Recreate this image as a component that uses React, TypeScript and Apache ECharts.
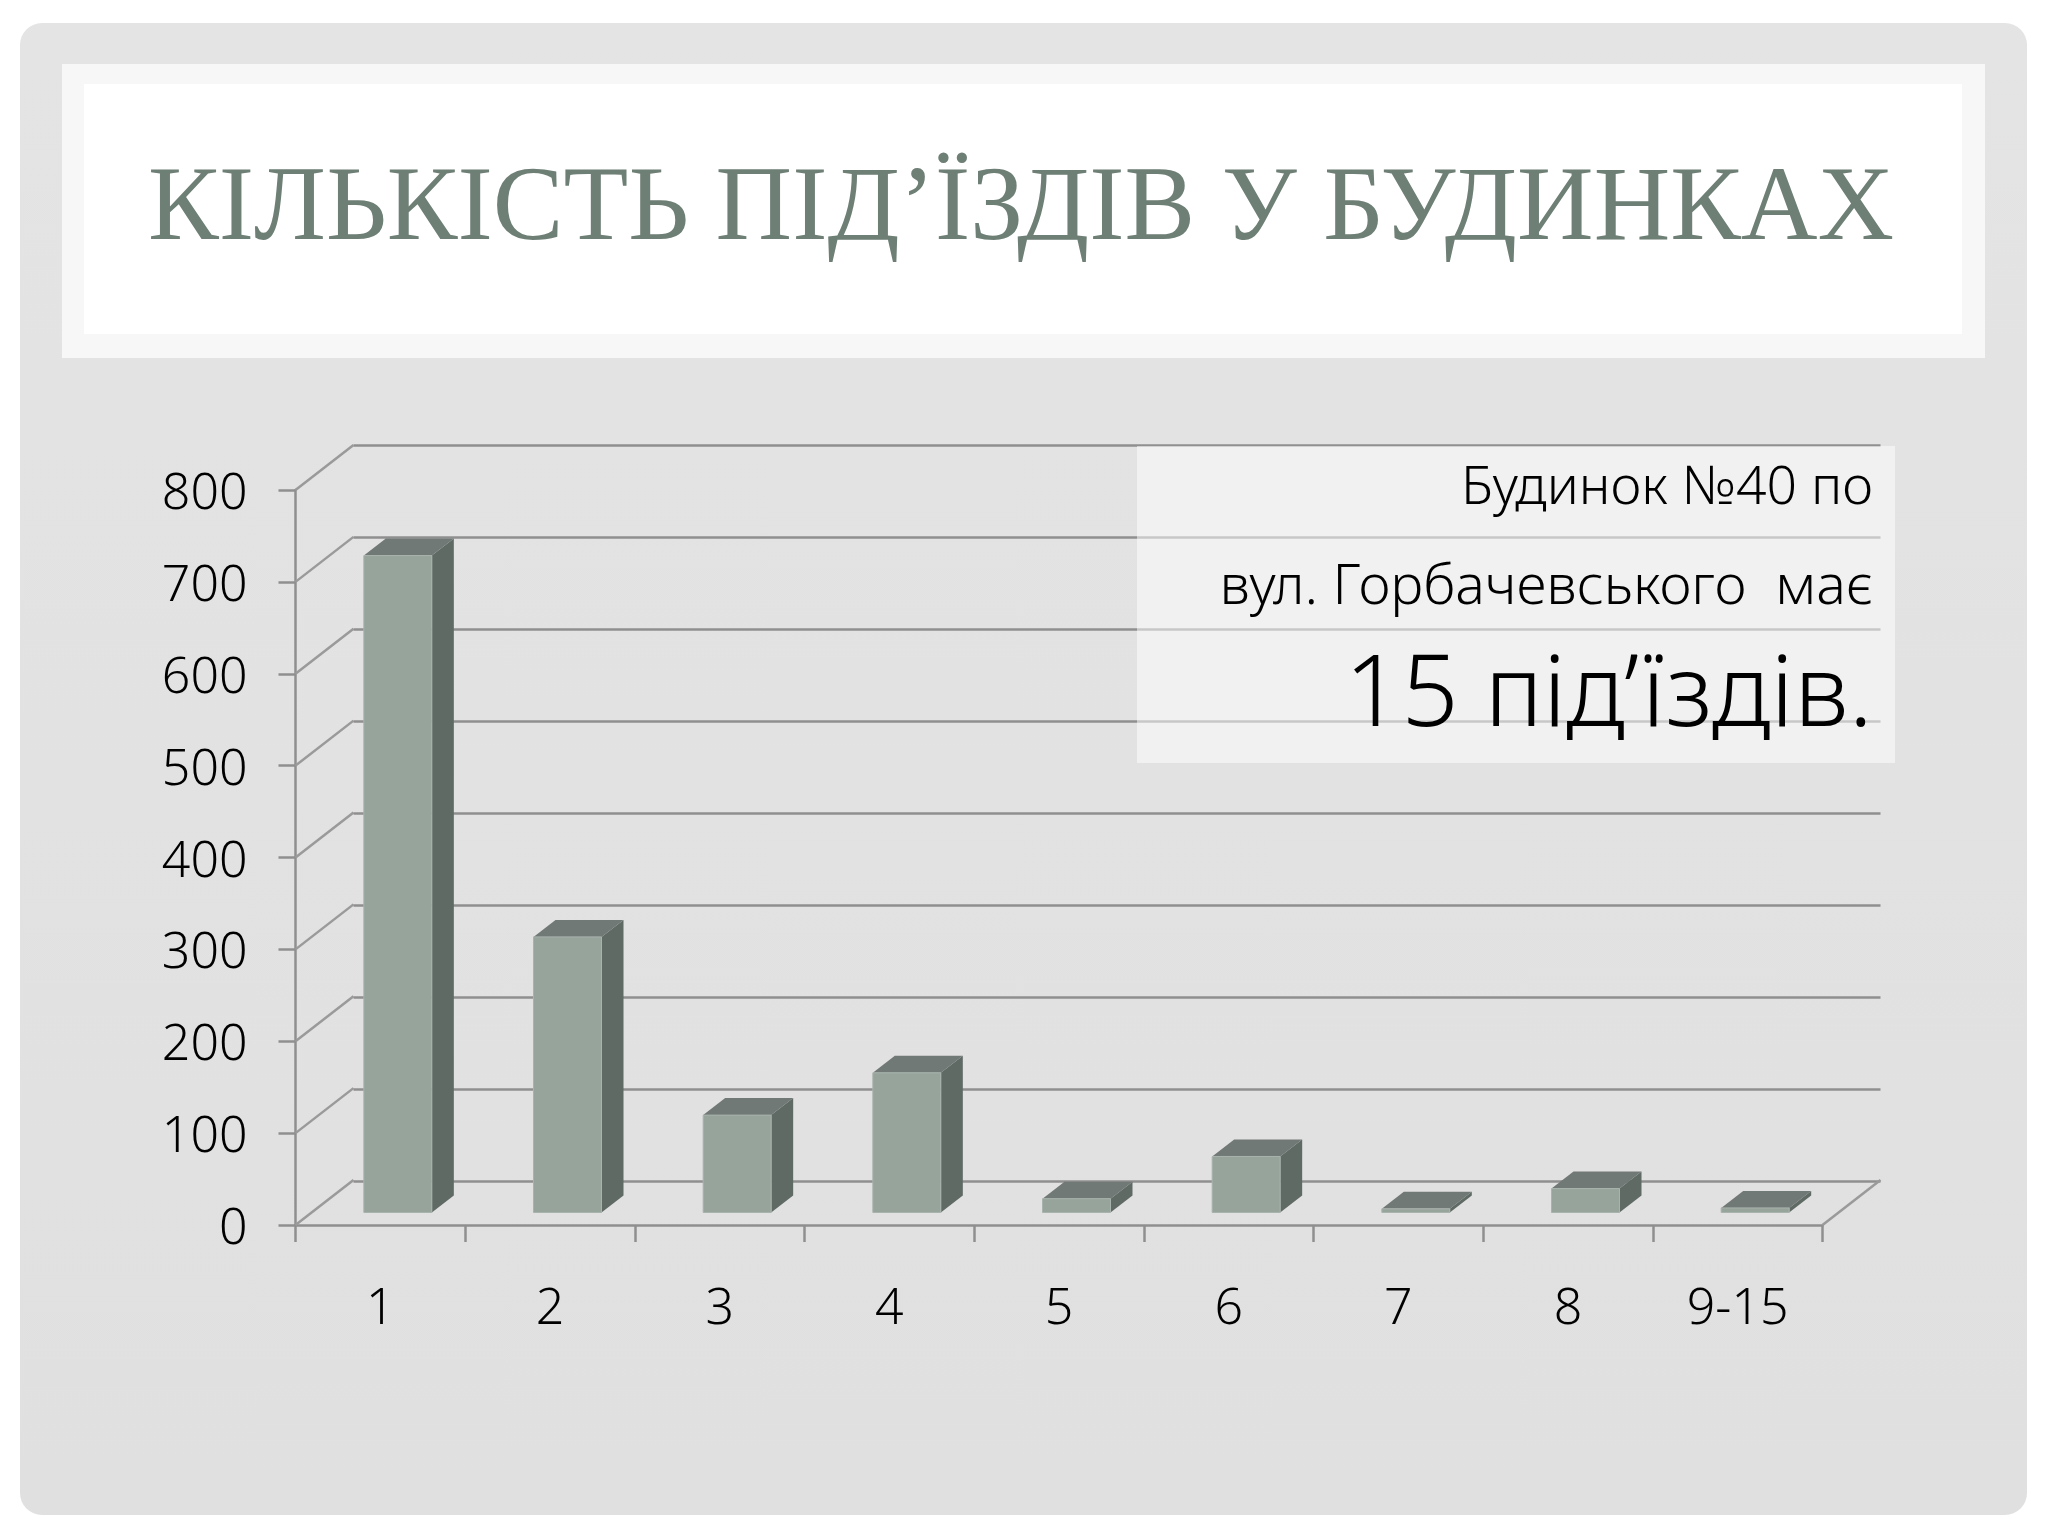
import React, { useEffect, useRef } from "react";
import * as echarts from "echarts";

const categories = ["1", "2", "3", "4", "5", "6", "7", "8", "9-15"];
const buildingCounts = [715, 300, 106, 152, 15, 61, 4, 26, 5];
const gridTicks = [0, 100, 200, 300, 400, 500, 600, 700, 800];
const titleText = "КІЛЬКІСТЬ ПІД’ЇЗДІВ У БУДИНКАХ";
const noteLines = ["Будинок №40 по", "вул. Горбачевського  має", "15 під’їздів."];

const FONT = "'Noto Sans', sans-serif";
const LINE = "#8f8f8f";
const DEPTH_X = 58;
const DEPTH_Y = -45;

const renderBar = (params: any, api: any) => {
  const i = api.value(0);
  const base = api.coord([i, 0]);
  const top = api.coord([i, api.value(1)]);
  const x0 = base[0] - 16.5;
  const x1 = x0 + 68;
  const y0 = base[1] - 12.5;
  const y1 = top[1] - 12.5;
  const dx = 22;
  const dy = -17;
  return {
    type: "group",
    children: [
      {
        type: "polygon",
        shape: { points: [[x1, y0], [x1 + dx, y0 + dy], [x1 + dx, y1 + dy], [x1, y1]] },
        style: { fill: "#5f6a65" },
      },
      {
        type: "polygon",
        shape: { points: [[x0, y1], [x1, y1], [x1 + dx, y1 + dy], [x0 + dx, y1 + dy]] },
        style: { fill: "#707975" },
      },
      {
        type: "rect",
        shape: { x: x0, y: y1, width: x1 - x0, height: y0 - y1 },
        style: { fill: "#96a49c", stroke: "#a9b3ad", lineWidth: 1 },
      },
    ],
  };
};

const renderSlant = (params: any, api: any) => {
  const c = api.coord([0, api.value(1)]);
  const x = params.coordSys.x;
  return {
    type: "line",
    shape: { x1: x, y1: c[1], x2: x + DEPTH_X, y2: c[1] + DEPTH_Y },
    style: { stroke: "#9a9a9a", lineWidth: 2.5 },
  };
};

const renderFloorEdge = (params: any, api: any) => {
  const c = api.coord([0, api.value(1)]);
  const x = params.coordSys.x + params.coordSys.width;
  return {
    type: "line",
    shape: { x1: x, y1: c[1], x2: x + DEPTH_X, y2: c[1] + DEPTH_Y },
    style: { stroke: "#9a9a9a", lineWidth: 2.5 },
  };
};

export default function App() {
  const ref = useRef<HTMLDivElement>(null);
  useEffect(() => {
    document.body.style.margin = "0";
    document.body.style.background = "#ffffff";
    const chart = echarts.init(ref.current!, null, { renderer: "svg" });
    const axisLine = { lineStyle: { color: LINE, width: 2.5 } };
    chart.setOption({
      animation: false,
      backgroundColor: "#ffffff",
      title: {
        text: titleText,
        left: 1016,
        top: 145,
        textAlign: "center",
        textStyle: { fontFamily: "'Liberation Serif', serif", fontSize: 106, fontWeight: 400, color: "#6e7f76" },
      },
      grid: [
        { left: 295.5, top: 490, width: 1527, height: 735 },
        { left: 353.5, top: 445.5, width: 1527, height: 736 },
      ],
      xAxis: [
        {
          type: "category",
          gridIndex: 0,
          data: categories,
          axisLine,
          axisTick: { show: true, length: 17, lineStyle: { color: LINE, width: 2.5 } },
          axisLabel: { margin: 55, fontFamily: FONT, fontSize: 50, fontWeight: 300, color: "#000000" },
        },
        { type: "category", gridIndex: 1, data: categories, show: false },
      ],
      yAxis: [
        {
          type: "value",
          gridIndex: 0,
          min: 0,
          max: 800,
          interval: 100,
          axisLine: { show: true, ...axisLine },
          axisTick: { show: true, length: 17, lineStyle: { color: LINE, width: 2.5 } },
          splitLine: { show: false },
          axisLabel: { margin: 48, padding: [6, 0, 0, 0], lineHeight: 56, fontFamily: FONT, fontSize: 50, fontWeight: 300, color: "#000000" },
        },
        {
          type: "value",
          gridIndex: 1,
          min: 0,
          max: 800,
          interval: 100,
          axisLine: { show: false },
          axisTick: { show: false },
          axisLabel: { show: false },
          splitLine: { show: true, lineStyle: { color: LINE, width: 2.5 } },
        },
      ],
      series: [
        {
          type: "custom",
          name: "Стінка",
          xAxisIndex: 0,
          yAxisIndex: 0,
          z: 1,
          silent: true,
          renderItem: renderSlant,
          data: gridTicks.map((v) => [0, v]),
        },
        {
          type: "custom",
          name: "Підлога",
          xAxisIndex: 0,
          yAxisIndex: 0,
          z: 1,
          silent: true,
          renderItem: renderFloorEdge,
          data: [[0, gridTicks[0]]],
        },
        {
          type: "custom",
          name: "Кількість будинків",
          xAxisIndex: 0,
          yAxisIndex: 0,
          z: 3,
          renderItem: renderBar,
          data: buildingCounts.map((v, i) => [i, v]),
        },
      ],
      graphic: [
        {
          type: "rect", z: -100, shape: { x: 20, y: 23, width: 2007, height: 1492, r: 22 },
          style: {
            fill: new echarts.graphic.LinearGradient(0, 0, 0, 1, [
              { offset: 0, color: "#e4e4e4" },
              { offset: 1, color: "#e1e0e1" },
            ]),
          },
        },
        { type: "rect", z: -99, shape: { x: 62, y: 64, width: 1923, height: 294 }, style: { fill: "#f7f7f7" } },
        { type: "rect", z: -98, shape: { x: 84, y: 84, width: 1878, height: 250 }, style: { fill: "#ffffff" } },
        { type: "rect", z: 50, shape: { x: 1137, y: 446, width: 758, height: 317 }, style: { fill: "rgba(255,255,255,0.5)" } },
        {
          type: "text", z: 60, x: 1873, y: 510,
          style: { text: noteLines[0], fill: "#000000", fontFamily: FONT, fontSize: 53.5, fontWeight: 300, textAlign: "right", textVerticalAlign: "bottom" },
        },
        {
          type: "text", z: 60, x: 1873, y: 610,
          style: { text: noteLines[1], fill: "#000000", fontFamily: FONT, fontSize: 55.5, fontWeight: 300, textAlign: "right", textVerticalAlign: "bottom" },
        },
        {
          type: "text", z: 60, x: 1873, y: 737,
          style: { text: noteLines[2], fill: "#000000", fontFamily: FONT, fontSize: 100, fontWeight: 300, textAlign: "right", textVerticalAlign: "bottom" },
        },
      ],
    });
    return () => chart.dispose();
  }, []);
  return <div ref={ref} style={{ position: "absolute", left: 0, top: 0, width: 2048, height: 1536 }} />;
}
